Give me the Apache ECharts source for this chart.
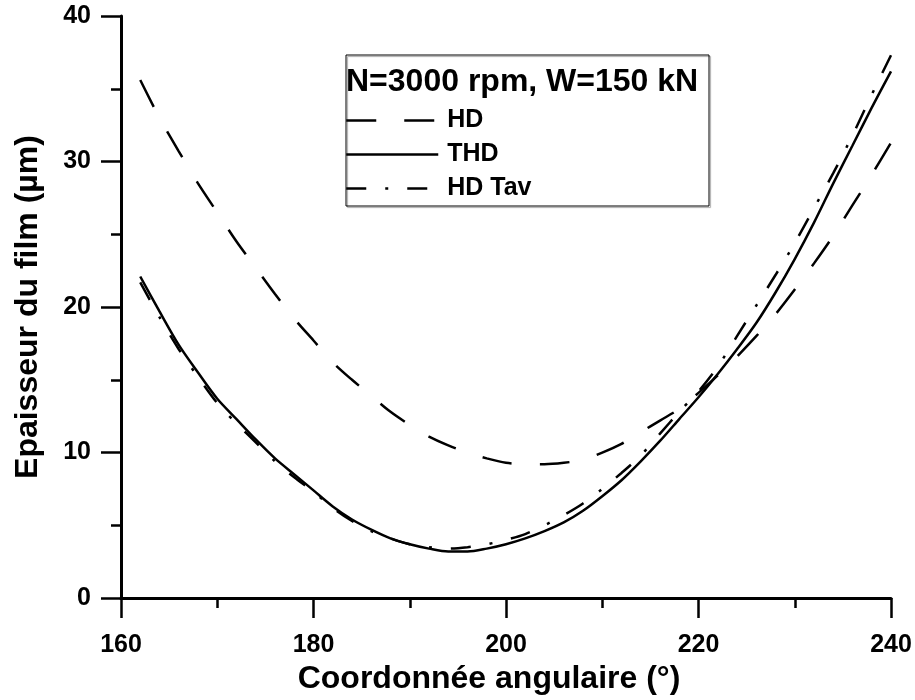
<!DOCTYPE html>
<html>
<head>
<meta charset="utf-8">
<title>Epaisseur du film</title>
<script src="https://cdn.jsdelivr.net/npm/echarts@6/dist/echarts.min.js"></script>
<style>
    html, body { margin: 0; padding: 0; background: #fff; }
    #main { width: 915px; height: 700px; }
</style>
</head>
<body>
<div id="main"></div>
<script>
var dom = document.getElementById("main");
var myChart = echarts.init(dom);
var option = null;

// coordonnee angulaire (deg)
var angles = [162, 164, 166, 168, 170, 172, 174, 176, 178, 180,
    182, 184, 186, 188, 190, 192, 194, 196, 198, 200,
    202, 204, 206, 208, 210, 212, 214, 216, 218, 220,
    222, 224, 226, 228, 230, 232, 234, 236, 238, 240];
// epaisseur du film (um)
var hd = [35.6, 33.0, 30.7, 28.5, 26.5, 24.5, 22.7, 20.9, 19.2, 17.7,
    16.2, 15.0, 13.9, 12.8, 11.9, 11.1, 10.5, 10.0, 9.6, 9.3,
    9.2, 9.2, 9.3, 9.5, 10.0, 10.6, 11.4, 12.2, 13.0, 14.1,
    15.3, 16.6, 18.0, 19.5, 21.2, 23.0, 24.9, 27.0, 29.1, 31.3];
var thd = [22.1, 19.7, 17.4, 15.5, 13.7, 12.3, 10.9, 9.6, 8.5, 7.4,
    6.3, 5.4, 4.7, 4.1, 3.7, 3.4, 3.2, 3.2, 3.4, 3.7,
    4.1, 4.6, 5.2, 6.0, 7.0, 8.1, 9.4, 10.8, 12.3, 13.8,
    15.4, 17.1, 18.9, 21.0, 23.3, 25.8, 28.5, 31.1, 33.7, 36.2];
var hdTav = [21.7, 19.3, 17.1, 15.2, 13.4, 12.0, 10.7, 9.4, 8.3, 7.3,
    6.2, 5.3, 4.6, 4.1, 3.7, 3.5, 3.4, 3.5, 3.7, 4.0,
    4.4, 5.0, 5.7, 6.5, 7.5, 8.6, 9.8, 11.3, 12.8, 14.2,
    15.9, 18.0, 20.1, 22.2, 24.4, 26.8, 29.2, 31.8, 34.6, 37.3];
var xTicks = [160, 180, 200, 220, 240];
var yTicks = [0, 10, 20, 30, 40];

var legendTitle = 'N=3000 rpm, W=150 kN';
var seriesNames = ['HD', 'THD', 'HD Tav'];

var font = '"Liberation Sans", Arial, Helvetica, sans-serif';

var toPairs = function (ys) {
    var res = [];
    for (var i = 0; i < angles.length; i++) {
        res.push([angles[i], ys[i]]);
    }
    return res;
};

var axisCommon = {
    axisLine: { show: true, onZero: false, lineStyle: { color: '#000', width: 3 } },
    axisTick: { show: true, inside: false, length: 20, lineStyle: { color: '#000', width: 2.5 } },
    minorTick: { show: true, splitNumber: 2, length: 10, lineStyle: { color: '#000', width: 2.5 } },
    splitLine: { show: false },
    minorSplitLine: { show: false }
};

option = {
    animation: false,
    backgroundColor: '#fff',
    color: ['#000', '#000', '#000'],
    title: {
        text: legendTitle,
        left: 346,
        top: 66,
        padding: 0,
        textStyle: { fontFamily: font, fontSize: 32, fontWeight: 'bold', color: '#000' }
    },
    legend: {
        data: seriesNames,
        orient: 'vertical',
        left: 345,
        top: 108,
        padding: 0,
        itemWidth: 92,
        itemHeight: 22,
        itemGap: 9,
        itemStyle: { opacity: 0 },
        lineStyle: { width: 2.5, color: '#000' },
        textStyle: { fontFamily: font, fontSize: 25, fontWeight: 'bold', color: '#000', padding: [0, 0, 0, 4] }
    },
    graphic: [
        {
            type: 'rect',
            z: 0,
            shape: { x: 346, y: 55, width: 363, height: 151 },
            style: {
                fill: 'none',
                stroke: '#000',
                lineWidth: 1,
                shadowColor: 'rgba(0,0,0,0.35)',
                shadowOffsetX: 1.5,
                shadowOffsetY: 1.5,
                shadowBlur: 1
            }
        }
    ],
    grid: { left: 121, right: 24, top: 16, bottom: 97, containLabel: false },
    xAxis: Object.assign({}, axisCommon, {
        type: 'value',
        min: xTicks[0],
        max: xTicks[xTicks.length - 1],
        interval: 20,
        name: 'Coordonnée angulaire (°)',
        nameLocation: 'middle',
        nameGap: 58,
        nameTextStyle: { fontFamily: font, fontSize: 32, fontWeight: 'bold', color: '#000', padding: [0, 34, 0, 0] },
        axisLabel: { margin: 35, fontFamily: font, fontSize: 25, fontWeight: 'bold', color: '#000' }
    }),
    yAxis: Object.assign({}, axisCommon, {
        type: 'value',
        min: yTicks[0],
        max: yTicks[yTicks.length - 1],
        interval: 10,
        name: 'Epaisseur du film (µm)',
        nameLocation: 'middle',
        nameGap: 77,
        nameTextStyle: { fontFamily: font, fontSize: 32, fontWeight: 'bold', color: '#000' },
        axisLabel: { margin: 30, fontFamily: font, fontSize: 25, fontWeight: 'bold', color: '#000' }
    }),
    series: [
        {
            name: seriesNames[0],
            type: 'line',
            symbol: 'none',
            smooth: 0.3,
            lineStyle: { color: '#000', width: 2.5, type: [30, 28] },
            data: toPairs(hd)
        },
        {
            name: seriesNames[1],
            type: 'line',
            symbol: 'none',
            smooth: 0.3,
            lineStyle: { color: '#000', width: 2.5, type: 'solid' },
            data: toPairs(thd)
        },
        {
            name: seriesNames[2],
            type: 'line',
            symbol: 'none',
            smooth: 0.3,
            lineStyle: { color: '#000', width: 2.5, type: [20, 19, 3, 19] },
            data: toPairs(hdTav)
        }
    ]
};

if (option && typeof option === "object") {
    myChart.setOption(option, true);
}
</script>
</body>
</html>
